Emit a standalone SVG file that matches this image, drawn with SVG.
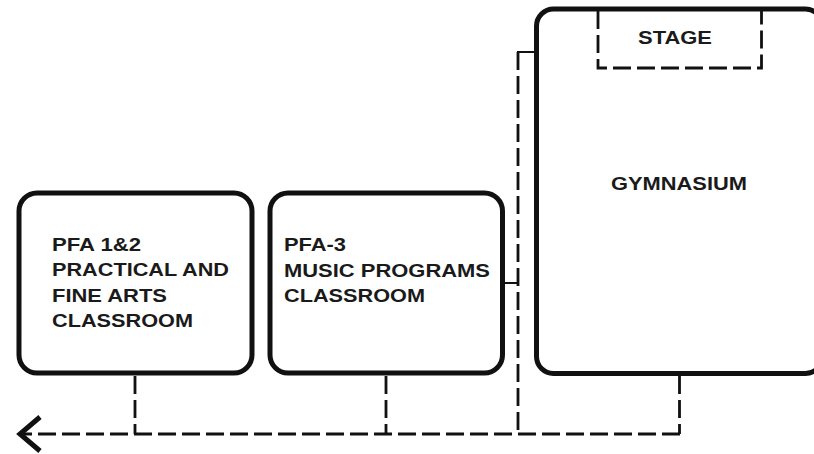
<svg xmlns="http://www.w3.org/2000/svg" width="814" height="454" viewBox="0 0 814 454">
<style>
.box{fill:#fff;stroke:#111;stroke-width:5}
.lbl{font-family:"Liberation Sans",Arial,sans-serif;font-size:17.5px;font-weight:bold;fill:#1a1a1a}
.dash{fill:none;stroke:#111;stroke-width:2.8;stroke-dasharray:18 6}
.thin{fill:none;stroke:#111;stroke-width:2}
.arrow{fill:none;stroke:#111;stroke-width:5;stroke-linejoin:miter}
</style>
<rect width="814" height="454" fill="#fff"/>
<g id="connectors">
<path class="dash" d="M135,376 V434"/>
<path class="dash" d="M386,376 V434"/>
<path class="dash" d="M679.5,376 V434"/>
<path class="dash" d="M518,52 V434"/>
<path class="dash" d="M680,434 H22"/>
<path class="thin" d="M505,283 H518"/>
<path class="thin" d="M517,52 H535"/>
<path class="arrow" d="M40,417 L20,434 L40,451"/>
</g>
<g id="pfa12">
<rect class="box" x="19" y="193" width="233" height="180" rx="18"/>
<text class="lbl" x="52" y="250.5" textLength="89" lengthAdjust="spacingAndGlyphs">PFA 1&amp;2</text>
<text class="lbl" x="52" y="276" textLength="177" lengthAdjust="spacingAndGlyphs">PRACTICAL AND</text>
<text class="lbl" x="52" y="301.5" textLength="115" lengthAdjust="spacingAndGlyphs">FINE ARTS</text>
<text class="lbl" x="52" y="326.5" textLength="141" lengthAdjust="spacingAndGlyphs">CLASSROOM</text>
</g>
<g id="pfa3">
<rect class="box" x="270" y="193" width="232.5" height="180" rx="18"/>
<text class="lbl" x="284" y="251" textLength="62" lengthAdjust="spacingAndGlyphs">PFA-3</text>
<text class="lbl" x="284" y="276.5" textLength="206" lengthAdjust="spacingAndGlyphs">MUSIC PROGRAMS</text>
<text class="lbl" x="284" y="302" textLength="141" lengthAdjust="spacingAndGlyphs">CLASSROOM</text>
</g>
<g id="gymnasium">
<rect class="box" x="536.5" y="9" width="286" height="364.5" rx="17"/>
<text class="lbl" x="611" y="190" textLength="136" lengthAdjust="spacingAndGlyphs">GYMNASIUM</text>
</g>
<g id="stage">
<path class="dash" d="M598,11 V68 H761.5 V11"/>
<text class="lbl" x="638" y="44" textLength="74" lengthAdjust="spacingAndGlyphs">STAGE</text>
</g>
</svg>
